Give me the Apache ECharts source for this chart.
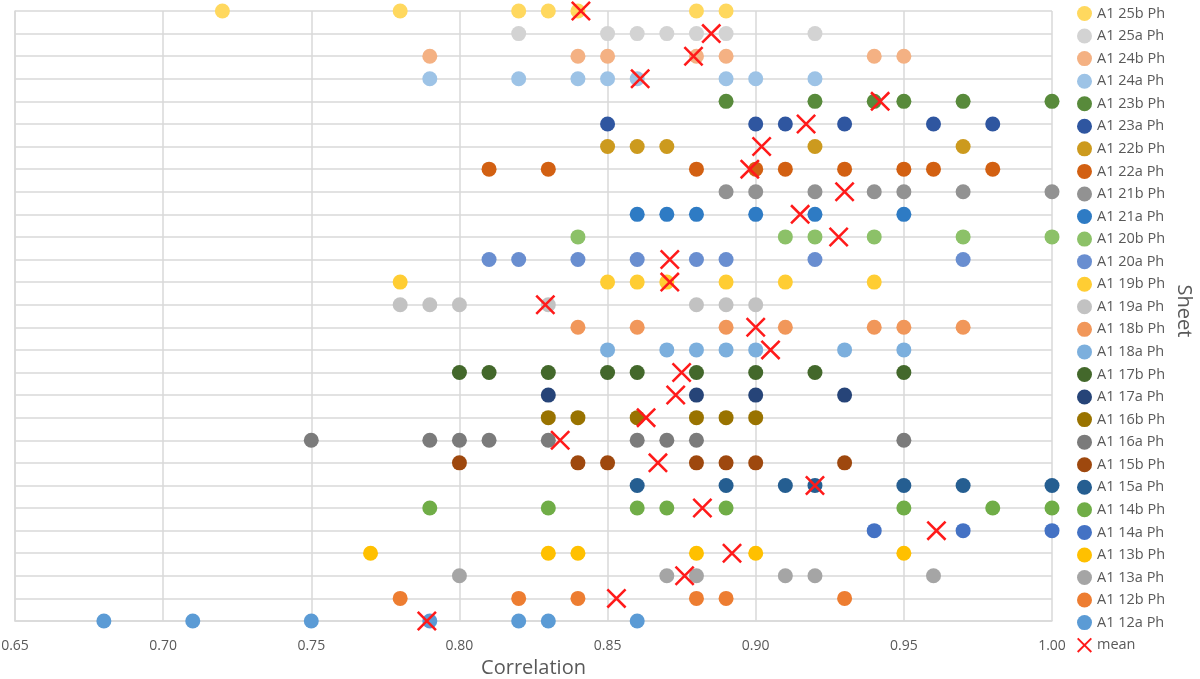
<!DOCTYPE html>
<html lang="en">
<head>
    <meta charset="UTF-8">
    <title>Correlation by sheet</title>
    <script src="https://cdn.jsdelivr.net/npm/echarts@6/dist/echarts.min.js"></script>
    <style>
        html, body { margin: 0; padding: 0; background: #fff; }
    </style>
</head>
<body>
<div id="main" style="width: 1200px;height:679px;"></div>
<script>
    // sheets from bottom (y = 1) to top (y = 28)
    var sheets = ['A1 12a Ph', 'A1 12b Ph', 'A1 13a Ph', 'A1 13b Ph', 'A1 14a Ph', 'A1 14b Ph',
        'A1 15a Ph', 'A1 15b Ph', 'A1 16a Ph', 'A1 16b Ph', 'A1 17a Ph', 'A1 17b Ph',
        'A1 18a Ph', 'A1 18b Ph', 'A1 19a Ph', 'A1 19b Ph', 'A1 20a Ph', 'A1 20b Ph',
        'A1 21a Ph', 'A1 21b Ph', 'A1 22a Ph', 'A1 22b Ph', 'A1 23a Ph', 'A1 23b Ph',
        'A1 24a Ph', 'A1 24b Ph', 'A1 25a Ph', 'A1 25b Ph'];

    // correlation values per sheet, same order as sheets
    var correlations = [
        [0.68, 0.71, 0.75, 0.79, 0.82, 0.83, 0.86],            // 12a
        [0.78, 0.82, 0.84, 0.88, 0.89, 0.93],                  // 12b
        [0.80, 0.87, 0.88, 0.91, 0.92, 0.96],                  // 13a
        [0.77, 0.83, 0.84, 0.88, 0.90, 0.95],                  // 13b
        [0.94, 0.97, 1.00],                                    // 14a
        [0.79, 0.83, 0.86, 0.87, 0.89, 0.95, 0.98, 1.00],      // 14b
        [0.86, 0.89, 0.91, 0.92, 0.95, 0.97, 1.00],            // 15a
        [0.80, 0.84, 0.85, 0.88, 0.89, 0.90, 0.93],            // 15b
        [0.75, 0.79, 0.80, 0.81, 0.83, 0.86, 0.87, 0.88, 0.95],// 16a
        [0.83, 0.84, 0.86, 0.88, 0.89, 0.90],                  // 16b
        [0.83, 0.88, 0.90, 0.93],                              // 17a
        [0.80, 0.81, 0.83, 0.85, 0.86, 0.88, 0.90, 0.92, 0.95],// 17b
        [0.85, 0.87, 0.88, 0.89, 0.90, 0.93, 0.95],            // 18a
        [0.84, 0.86, 0.89, 0.91, 0.94, 0.95, 0.97],            // 18b
        [0.78, 0.79, 0.80, 0.83, 0.88, 0.89, 0.90],            // 19a
        [0.78, 0.85, 0.86, 0.87, 0.89, 0.91, 0.94],            // 19b
        [0.81, 0.82, 0.84, 0.86, 0.88, 0.89, 0.92, 0.97],      // 20a
        [0.84, 0.91, 0.92, 0.94, 0.97, 1.00],                  // 20b
        [0.86, 0.87, 0.88, 0.90, 0.92, 0.95],                  // 21a
        [0.89, 0.90, 0.92, 0.94, 0.95, 0.97, 1.00],            // 21b
        [0.81, 0.83, 0.88, 0.90, 0.91, 0.93, 0.95, 0.96, 0.98],// 22a
        [0.85, 0.86, 0.87, 0.92, 0.97],                        // 22b
        [0.85, 0.90, 0.91, 0.93, 0.96, 0.98],                  // 23a
        [0.89, 0.92, 0.94, 0.95, 0.97, 1.00],                  // 23b
        [0.79, 0.82, 0.84, 0.85, 0.86, 0.89, 0.90, 0.92],      // 24a
        [0.79, 0.84, 0.85, 0.88, 0.89, 0.94, 0.95],            // 24b
        [0.82, 0.85, 0.86, 0.87, 0.88, 0.89, 0.92],            // 25a
        [0.72, 0.78, 0.82, 0.83, 0.84, 0.88, 0.89]             // 25b
    ];

    // mean per sheet
    var means = [0.789, 0.853, 0.876, 0.892, 0.961, 0.882, 0.920, 0.867, 0.834, 0.863,
        0.873, 0.875, 0.905, 0.900, 0.829, 0.871, 0.871, 0.928, 0.915, 0.930,
        0.898, 0.902, 0.917, 0.942, 0.861, 0.879, 0.885, 0.841];

    var xTicks = { min: 0.65, max: 1.00, step: 0.05 };

    var palette = ['#5B9BD5', '#ED7D31', '#A5A5A5', '#FFC000', '#4472C4', '#70AD47',
        '#255E91', '#9E480E', '#7B7B7B', '#997300', '#264478', '#43682B',
        '#7CAFDD', '#F1975A', '#C2C2C2', '#FFCD33', '#698ED0', '#8CC168',
        '#2E7BC4', '#929292', '#D26012', '#CC9A1E', '#2F56A0', '#588A3B',
        '#9DC3E6', '#F4B183', '#D3D3D3', '#FFD85E'];

    var crossPath = 'path://M0,0.9L0.9,0L10,9.1L9.1,10Z M9.1,0L10,0.9L0.9,10L0,9.1Z';
    var textColor = '#595959';
    var gridColor = '#D9D9D9';

    var myChart = echarts.init(document.getElementById('main'));

    var series = [];
    for (var i = 0; i < sheets.length; i++) {
        series.push({
            name: sheets[i],
            type: 'scatter',
            symbol: 'circle',
            symbolSize: 15,
            itemStyle: { color: palette[i], opacity: 1 },
            data: correlations[i].map(function (v) { return [v, i + 1]; })
        });
    }
    series.push({
        name: 'mean',
        type: 'scatter',
        symbol: crossPath,
        symbolSize: 20,
        z: 5,
        itemStyle: { color: '#FF1A1A', opacity: 1 },
        data: means.map(function (v, k) { return [v, k + 1]; })
    });

    var legendData = sheets.slice().reverse();
    legendData.push('mean');

    var option = {
        animation: false,
        backgroundColor: '#fff',
        textStyle: { fontFamily: 'Open Sans' },
        grid: { left: 15, right: 148, top: 11, bottom: 58, containLabel: false, outerBoundsMode: 'none' },
        legend: {
            orient: 'vertical',
            left: 1072,
            top: 1,
            itemWidth: 15,
            itemHeight: 15,
            itemGap: 7.56,
            selectedMode: false,
            data: legendData,
            textStyle: { color: textColor, fontSize: 14.5, lineHeight: 15, fontFamily: 'Open Sans' }
        },
        xAxis: {
            type: 'value',
            min: xTicks.min,
            max: xTicks.max,
            interval: xTicks.step,
            name: 'Correlation',
            nameLocation: 'middle',
            nameGap: 37,
            nameTextStyle: { color: textColor, fontSize: 20 },
            axisLine: { show: true, lineStyle: { color: gridColor, width: 1.5 } },
            axisTick: { show: false },
            axisLabel: {
                color: textColor, fontSize: 14, margin: 18,
                formatter: function (v) { return v.toFixed(2); }
            },
            splitLine: { show: true, lineStyle: { color: gridColor, width: 1.5 } }
        },
        yAxis: {
            type: 'value',
            min: 1,
            max: 28,
            interval: 1,
            axisLine: { show: true, lineStyle: { color: gridColor, width: 1.5 } },
            axisTick: { show: false },
            axisLabel: { show: false },
            splitLine: { show: true, lineStyle: { color: gridColor, width: 1.5 } }
        },
        graphic: [{
            type: 'text',
            x: 1184,
            y: 311,
            rotation: -Math.PI / 2,
            style: {
                text: 'Sheet',
                fill: textColor,
                font: '20px "Open Sans"',
                align: 'center',
                verticalAlign: 'middle'
            }
        }],
        series: series
    };

    myChart.setOption(option);
</script>
</body>
</html>
